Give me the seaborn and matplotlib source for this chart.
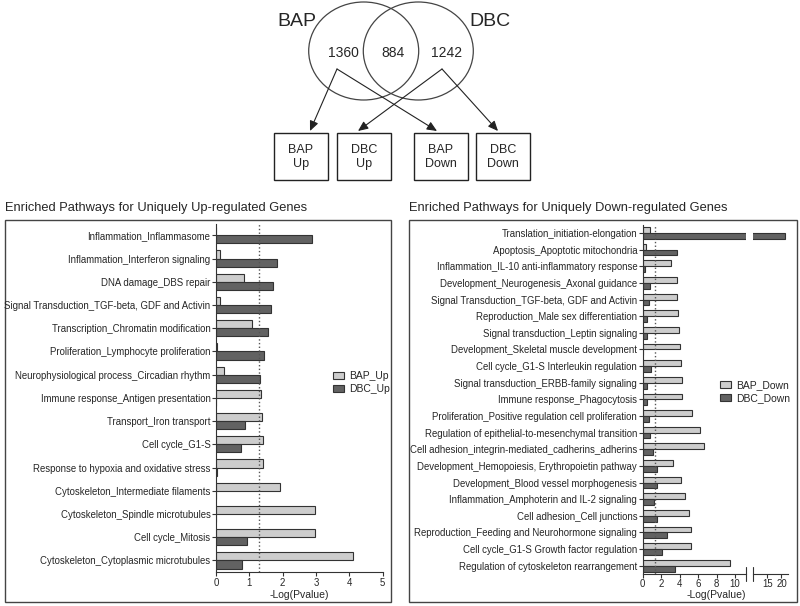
import matplotlib
matplotlib.use("Agg")
import matplotlib.pyplot as plt
import matplotlib.patches as mpatches
import seaborn as sns
import pandas as pd

# Venn diagram numbers
venn_sets = ["BAP", "DBC"]
venn_counts = ["1360", "884", "1242"]
venn_boxes = ["BAP\nUp", "DBC\nUp", "BAP\nDown", "DBC\nDown"]

# Up-regulated pathways, -log(p) values
up_pathways = ["Inflammation_Inflammasome", "Inflammation_Interferon signaling",
               "DNA damage_DBS repair", "Signal Transduction_TGF-beta, GDF and Activin",
               "Transcription_Chromatin modification", "Proliferation_Lymphocyte proliferation",
               "Neurophysiological process_Circadian rhythm", "Immune response_Antigen presentation",
               "Transport_Iron transport", "Cell cycle_G1-S",
               "Response to hypoxia and oxidative stress", "Cytoskeleton_Intermediate filaments",
               "Cytoskeleton_Spindle microtubules", "Cell cycle_Mitosis",
               "Cytoskeleton_Cytoplasmic microtubules"]
up_bap = [0.0, 0.12, 0.85, 0.12, 1.09, 0.02, 0.25, 1.36, 1.37, 1.40, 1.42, 1.91, 2.97, 2.97, 4.10]
up_dbc = [2.88, 1.83, 1.71, 1.65, 1.55, 1.43, 1.31, 0.0, 0.86, 0.74, 0.03, 0.0, 0.0, 0.94, 0.79]

# Down-regulated pathways
down_pathways = ["Translation_initiation-elongation", "Apoptosis_Apoptotic mitochondria",
                 "Inflammation_IL-10 anti-inflammatory response",
                 "Development_Neurogenesis_Axonal guidance",
                 "Signal Transduction_TGF-beta, GDF and Activin",
                 "Reproduction_Male sex differentiation", "Signal transduction_Leptin signaling",
                 "Development_Skeletal muscle development",
                 "Cell cycle_G1-S Interleukin regulation",
                 "Signal transduction_ERBB-family signaling", "Immune response_Phagocytosis",
                 "Proliferation_Positive regulation cell proliferation",
                 "Regulation of epithelial-to-mesenchymal transition",
                 "Cell adhesion_integrin-mediated_cadherins_adherins",
                 "Development_Hemopoiesis, Erythropoietin pathway",
                 "Development_Blood vessel morphogenesis",
                 "Inflammation_Amphoterin and IL-2 signaling", "Cell adhesion_Cell junctions",
                 "Reproduction_Feeding and Neurohormone signaling",
                 "Cell cycle_G1-S Growth factor regulation",
                 "Regulation of cytoskeleton rearrangement"]
down_bap = [0.8, 0.4, 3.07, 3.7, 3.7, 3.8, 3.9, 4.0, 4.2, 4.3, 4.3, 5.33, 6.2, 6.66,
            3.3, 4.2, 4.6, 4.97, 5.2, 5.2, 9.45]
down_dbc = [21.3, 3.7, 0.3, 0.75, 0.68, 0.5, 0.5, 0.0, 0.86, 0.45, 0.5, 0.7, 0.8, 1.15,
            1.5, 1.6, 1.25, 1.55, 2.63, 2.05, 3.5]

light = "#cdcdcd"
dark = "#626262"
edge = "#333333"

sns.set_theme(style="ticks")
plt.rcParams["font.family"] = ["Liberation Sans", "DejaVu Sans"]

W, H = 800, 606
fig = plt.figure(figsize=(8, 6.06), dpi=100)


def px_axes(x0, y0, x1, y1):
    return fig.add_axes([x0 / W, 1 - y1 / H, (x1 - x0) / W, (y1 - y0) / H])


# overlay for venn, boxes and titles (pixel coordinates)
ov = fig.add_axes([0, 0, 1, 1])
ov.set_xlim(0, W)
ov.set_ylim(H, 0)
ov.axis("off")

for cx in (363.7, 418.3):
    ov.add_patch(mpatches.Ellipse((cx, 51), 110, 98, fill=False, ec="#444444", lw=0.9))
ov.text(297, 21, venn_sets[0], fontsize=14, ha="center", va="center")
ov.text(490, 21, venn_sets[1], fontsize=14, ha="center", va="center")
for x, t in zip((343, 393, 447), venn_counts):
    ov.text(x, 53, t, fontsize=10, ha="center", va="center")

box_x = [274, 337, 414, 476]
for x, t in zip(box_x, venn_boxes):
    ov.add_patch(mpatches.Rectangle((x, 133), 54, 47, fill=False, ec="#222222", lw=1))
    ov.text(x + 27, 157, t, fontsize=9, ha="center", va="center", linespacing=1.3)

arrows = [((337, 69), (310, 131)), ((337, 69), (437, 131)),
          ((442, 69), (358, 131)), ((442, 69), (498, 131))]
for (s, e) in arrows:
    ov.annotate("", xy=e, xytext=s,
                arrowprops=dict(arrowstyle="-|>,head_length=0.5,head_width=0.22",
                                color="#222222", lw=0.8, shrinkA=0, shrinkB=0))

ov.add_patch(mpatches.Rectangle((5, 220), 386, 382, fill=False, ec="#444444", lw=1))
ov.add_patch(mpatches.Rectangle((409, 220), 388, 382, fill=False, ec="#444444", lw=1))
ov.text(5, 208, "Enriched Pathways for Uniquely Up-regulated Genes", fontsize=9.3, va="center")
ov.text(409, 208, "Enriched Pathways for Uniquely Down-regulated Genes", fontsize=9.3, va="center")

bar_kw = dict(x="value", y="pathway", hue="group", orient="h", palette=[light, dark],
              edgecolor=edge, linewidth=0.8, width=0.7, errorbar=None, legend=False)


def style_axis(ax):
    ax.set_ylabel("")
    ax.set_xlabel("")
    for s in ("top", "right"):
        ax.spines[s].set_visible(False)
    for s in ("left", "bottom"):
        ax.spines[s].set_color(edge)
        ax.spines[s].set_linewidth(0.8)
    ax.tick_params(axis="both", labelsize=6.9, length=3, width=0.8, color=edge, pad=1)


# left panel
df_up = pd.DataFrame({"pathway": up_pathways * 2, "value": up_bap + up_dbc,
                      "group": ["BAP_Up"] * len(up_bap) + ["DBC_Up"] * len(up_dbc)})
axL = px_axes(216, 223.7, 382.5, 572)
sns.barplot(data=df_up, order=up_pathways, hue_order=["BAP_Up", "DBC_Up"], ax=axL, **bar_kw)
axL.set_xlim(0, 5)
axL.set_xticks(range(6))
axL.axvline(1.3, color="#555555", ls=":", lw=1)
axL.set_ylim(len(up_pathways) - 0.5, -0.5)
style_axis(axL)
axL.set_xlabel("-Log(Pvalue)", fontsize=7.5, labelpad=2)

# right panel, broken x axis
df_dn = pd.DataFrame({"pathway": down_pathways * 2, "value": down_bap + down_dbc,
                      "group": ["BAP_Down"] * len(down_bap) + ["DBC_Down"] * len(down_dbc)})
axA = px_axes(642.7, 224.7, 745.7, 574)
axB = px_axes(753, 224.7, 788, 574)
for ax in (axA, axB):
    sns.barplot(data=df_dn, order=down_pathways, hue_order=["BAP_Down", "DBC_Down"], ax=ax, **bar_kw)
    style_axis(ax)
    ax.tick_params(axis="x", pad=0.5)
axA.axvline(1.3, color="#555555", ls=":", lw=1)
axB.spines["left"].set_visible(False)
axB.set_yticks([])
for ax, xb in ((axA, 11.15), (axB, 10)):
    ax.plot([xb, xb], [-0.02, 0.02], color=edge, lw=0.8, transform=ax.get_xaxis_transform(),
            clip_on=False)
axA.set_xlim(0, 11.15)
axA.set_xticks(range(0, 11, 2))
axB.set_xlim(10, 22.3)
axB.set_xticks([15, 20])
for ax in (axA, axB):
    ax.set_ylim(len(down_pathways) - 0.5, -0.5)
fig.text(716 / W, 1 - 595 / H, "-Log(Pvalue)", fontsize=7.5, ha="center", va="center")

# legends
def add_legend(labels, x, y):
    handles = [mpatches.Patch(fc=light, ec=edge, lw=0.8), mpatches.Patch(fc=dark, ec=edge, lw=0.8)]
    fig.legend(handles, labels, loc="upper left", bbox_to_anchor=(x / W, 1 - y / H),
               frameon=False, fontsize=7.5, handlelength=1.05, handleheight=0.75,
               handletextpad=0.5, labelspacing=0.3, borderpad=0, borderaxespad=0)


add_legend(["BAP_Up", "DBC_Up"], 333, 371)
add_legend(["BAP_Down", "DBC_Down"], 720, 380)

fig.savefig("out.png", dpi=100)
